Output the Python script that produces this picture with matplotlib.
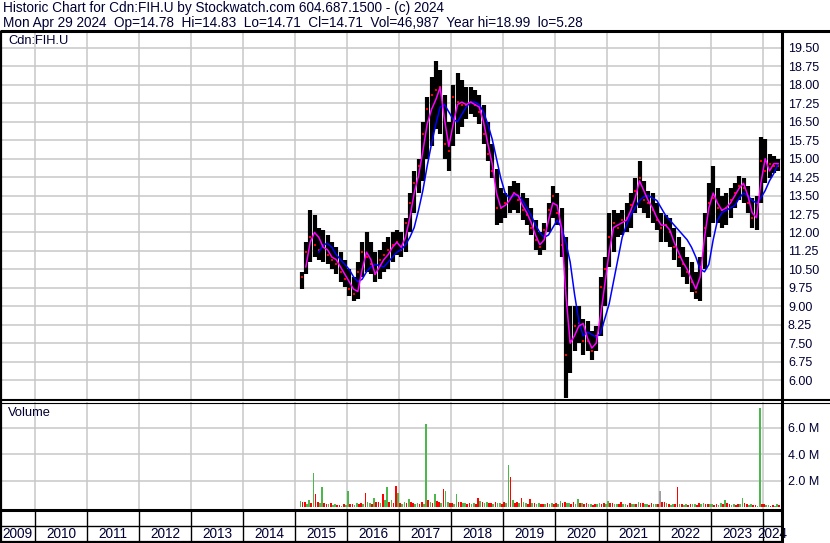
import numpy as np
import pandas as pd
import matplotlib
matplotlib.use('Agg')
import matplotlib.pyplot as plt

plt.rcParams['font.family'] = ['Liberation Sans', 'DejaVu Sans']

W, H = 830, 543
TXT = '#000033'
GRID = '#c8c8c8'

# monthly price bars, Feb 2015 .. Apr 2024
months = pd.period_range('2015-02', '2024-04', freq='M')
highs = [10.4, 11.6, 12.9, 12.7, 12.2, 12.1, 11.9, 11.6, 11.4, 11.2, 10.9,
         10.5, 10.2, 10.8, 11.6, 12.0, 11.6, 11.2, 11.3, 11.6, 11.8, 12.0, 12.1,
         12.0, 12.6, 13.6, 14.5, 15.0, 16.5, 17.5, 18.3, 18.99, 18.6, 17.6, 16.5,
         18.0, 18.5, 18.2, 17.9, 17.9, 17.8, 17.6, 17.2, 16.5, 15.6, 14.6, 13.8,
         13.6, 13.9, 14.1, 14.0, 13.6, 13.4, 13.0, 12.5, 12.0, 12.4, 13.2, 13.9,
         13.6, 13.0, 11.8, 9.0, 9.0, 9.0, 8.5, 8.4, 8.0, 8.2, 10.2, 11.0,
         12.8, 12.9, 12.8, 12.9, 13.2, 13.6, 14.2, 14.9, 14.1, 13.7, 13.6, 13.2,
         12.8, 12.7, 12.6, 12.2, 11.8, 11.4, 11.0, 10.8, 10.4, 11.0, 12.8, 14.0,
         14.7, 13.8, 13.5, 13.6, 13.8, 14.0, 14.3, 14.2, 13.9, 13.4, 13.5, 15.9,
         15.8, 15.2, 15.1, 15.0]
lows = [9.7, 10.3, 10.8, 11.0, 10.9, 10.8, 10.7, 10.5, 10.3, 10.0, 9.8,
        9.4, 9.2, 9.3, 10.2, 10.4, 10.3, 10.0, 10.1, 10.4, 10.5, 10.8, 11.1,
        11.0, 11.2, 12.0, 12.8, 13.6, 14.1, 15.0, 15.5, 16.2, 16.0, 15.0, 14.5,
        15.5, 16.0, 16.3, 16.6, 16.8, 16.7, 16.4, 15.6, 14.9, 14.2, 12.3, 12.4,
        12.6, 12.8, 12.9, 12.8, 12.5, 12.3, 11.9, 11.3, 11.1, 11.3, 12.0, 12.6,
        12.3, 11.0, 5.28, 6.3, 7.2, 7.5, 7.0, 7.2, 6.8, 7.2, 7.8, 9.0,
        10.6, 11.2, 11.8, 11.9, 12.0, 12.2, 12.8, 13.0, 12.8, 12.6, 12.4, 12.1,
        11.6, 11.6, 11.4, 10.9, 10.6, 10.2, 9.9, 9.6, 9.3, 9.2, 10.5, 11.8,
        12.4, 12.4, 12.2, 12.3, 12.6, 13.0, 13.3, 13.2, 12.8, 12.2, 12.1, 13.2,
        14.0, 14.2, 14.4, 14.5]
closes = [10.2, 11.2, 11.8, 11.5, 11.3, 11.5, 11.1, 10.9, 10.7, 10.4, 10.1,
          9.7, 9.5, 10.4, 11.2, 11.0, 10.7, 10.3, 10.9, 11.1, 11.3, 11.5, 11.6,
          11.3, 12.4, 13.2, 14.0, 14.7, 16.0, 17.0, 17.6, 17.8, 17.9, 15.6, 15.3,
          17.5, 17.3, 17.2, 17.2, 17.3, 17.2, 16.9, 16.0, 15.2, 14.5, 13.0, 13.0,
          13.2, 13.4, 13.6, 13.3, 12.9, 12.7, 12.2, 11.7, 11.4, 12.1, 12.9, 13.5,
          12.8, 11.5, 7.0, 7.6, 8.2, 8.3, 7.6, 7.6, 7.2, 7.8, 9.8, 10.5,
          11.8, 12.4, 12.2, 12.5, 12.6, 13.1, 13.7, 14.2, 13.3, 13.2, 12.9, 12.5,
          12.2, 12.3, 12.0, 11.4, 11.0, 10.7, 10.4, 10.0, 9.6, 10.6, 12.2, 13.2,
          13.4, 13.0, 12.9, 13.0, 13.3, 13.6, 13.9, 13.8, 13.2, 12.6, 13.2, 14.9,
          14.5, 14.8, 14.7, 14.71]
# short average (magenta) and long average (blue)
ma_short = [None, 10.6, 11.6, 12.0, 11.8, 11.4, 11.3, 11.0, 10.9, 10.6, 10.3,
            10.0, 9.7, 9.6, 10.5, 11.2, 10.9, 10.3, 10.6, 10.9, 11.1, 11.4, 11.6,
            11.4, 11.8, 12.6, 13.6, 14.3, 15.3, 16.4, 17.0, 17.4, 17.9, 16.6, 15.5,
            16.4, 17.2, 17.3, 17.2, 17.3, 17.2, 17.1, 16.5, 15.6, 14.8, 13.6, 13.0,
            13.1, 13.3, 13.6, 13.5, 13.1, 12.8, 12.4, 11.9, 11.5, 11.7, 12.5, 13.2,
            13.1, 12.2, 9.5, 7.5, 7.8, 8.2, 8.3, 7.7, 7.3, 7.5, 8.6, 9.9,
            11.2, 12.2, 12.3, 12.4, 12.5, 12.9, 13.4, 14.1, 13.7, 13.3, 13.0, 12.6,
            12.3, 12.3, 12.1, 11.6, 11.2, 10.8, 10.5, 10.1, 9.7, 10.2, 11.8, 13.0,
            13.6, 13.2, 12.9, 13.0, 13.2, 13.5, 13.8, 14.0, 13.5, 12.8, 12.6, 14.0,
            15.0, 14.5, 14.8, 14.8]
ma_long = [None, None, None, None, 11.2, 11.5, 11.55, 11.4, 11.1, 10.9, 10.7,
           10.5, 10.2, 10.0, 10.1, 10.4, 10.6, 10.7, 10.65, 10.6, 10.8, 11.0, 11.2,
           11.3, 11.5, 11.8, 12.2, 12.9, 13.7, 14.7, 15.6, 16.4, 17.1, 17.2, 16.9,
           16.6, 16.5, 16.8, 17.1, 17.3, 17.3, 17.2, 16.9, 16.4, 15.8, 15.0, 14.2,
           13.6, 13.4, 13.5, 13.5, 13.3, 13.0, 12.7, 12.3, 12.0, 11.8, 11.9, 12.2,
           12.5, 12.2, 11.6, 10.8, 9.5, 8.4, 7.8, 7.95, 7.85, 7.75, 7.9, 8.5,
           9.1, 10.0, 10.9, 11.8, 12.3, 12.7, 13.0, 13.3, 13.45, 13.5, 13.4, 13.3,
           13.0, 12.7, 12.5, 12.3, 12.1, 11.9, 11.7, 11.4, 11.0, 10.5, 10.4, 10.7,
           11.7, 12.5, 12.8, 12.9, 13.0, 13.1, 13.4, 13.6, 13.5, 13.3, 13.2, 13.4,
           13.7, 14.1, 14.4, 14.8]
# biggest and a typical daily volume in each month (millions)
vol_peak = [0.45, 0.4, 0.5, 2.6, 0.4, 1.5, 0.25, 0.3, 0.2, 0.15, 0.2,
            1.2, 0.2, 0.3, 0.3, 1.1, 0.3, 0.7, 0.4, 1.0, 1.5, 0.5, 1.6,
            0.3, 0.4, 0.6, 0.3, 0.3, 0.4, 6.3, 0.4, 1.0, 0.4, 1.4, 0.4,
            0.3, 1.0, 0.35, 0.3, 0.3, 0.3, 0.7, 0.4, 0.4, 0.3, 0.4, 0.3,
            0.4, 3.2, 0.5, 0.4, 0.7, 0.3, 0.6, 0.3, 0.3, 0.25, 0.3, 0.3,
            0.3, 0.45, 0.4, 0.3, 0.35, 0.6, 0.3, 0.3, 0.2, 0.25, 0.3, 0.3,
            0.45, 0.3, 0.25, 0.35, 0.2, 0.3, 0.25, 0.4, 0.3, 0.2, 0.3, 0.25,
            1.2, 0.4, 0.2, 0.25, 1.5, 0.2, 0.2, 0.25, 0.2, 0.3, 0.3, 0.25,
            0.2, 0.2, 0.3, 0.55, 0.2, 0.2, 0.25, 0.7, 0.2, 0.2, 0.15, 7.5,
            0.2, 0.15, 0.15, 0.2]
vol_peak_dir = ('grggrgrrgrr' 'grgrrggrrggr' 'rggrgrgggrrg' 'rgrgrgrrgrrg'
                'rggrrgrrgrrg' 'rgrgrggrgrgr' 'grgrgrggrgrg' 'krrgrrgrgrgr'
                'grggrgrgrgrg' 'rgrg')
vol_typ = [0.35, 0.25, 0.3, 1.0, 0.3, 0.3, 0.2, 0.15, 0.15, 0.1, 0.15,
           0.2, 0.15, 0.2, 0.25, 0.4, 0.2, 0.4, 0.3, 0.5, 0.4, 0.3, 1.1,
           0.2, 0.3, 0.35, 0.2, 0.2, 0.25, 0.5, 0.3, 0.45, 0.3, 1.2, 0.3,
           0.2, 0.4, 0.3, 0.2, 0.25, 0.2, 0.45, 0.3, 0.3, 0.2, 0.3, 0.2,
           0.3, 2.3, 0.3, 0.3, 0.4, 0.2, 0.3, 0.2, 0.2, 0.2, 0.2, 0.2,
           0.2, 0.3, 0.3, 0.2, 0.25, 0.3, 0.2, 0.2, 0.15, 0.2, 0.2, 0.2,
           0.3, 0.2, 0.2, 0.25, 0.15, 0.2, 0.2, 0.3, 0.2, 0.15, 0.2, 0.2,
           0.4, 0.3, 0.15, 0.2, 0.2, 0.15, 0.15, 0.2, 0.15, 0.2, 0.2, 0.2,
           0.15, 0.15, 0.2, 0.3, 0.15, 0.15, 0.2, 0.3, 0.15, 0.15, 0.1, 0.2,
           0.15, 0.1, 0.1, 0.15]

price_ticks = np.arange(6.0, 19.51, 0.75)
vol_ticks = [2, 4, 6]
years = list(range(2009, 2025))

header1 = 'Historic Chart for Cdn:FIH.U by Stockwatch.com 604.687.1500 - (c) 2024'
header2 = ('Mon Apr 29 2024  Op=14.78  Hi=14.83  Lo=14.71  Cl=14.71  '
           'Vol=46,987  Year hi=18.99  lo=5.28')

x_dates = np.array([p.year + (p.month - 0.5) / 12 for p in months])
hi = np.array(highs)
lo = np.array(lows)
cl = np.array(closes)
ma1 = np.array([np.nan if v is None else v for v in ma_short])
ma2 = np.array([np.nan if v is None else v for v in ma_long])

XMIN = 2010 - 35 / 52
XMAX = 2010 + 746 / 52
FS = 9.3


def box(l, t, r, b):
    return [l / W, 1 - b / H, (r - l) / W, (b - t) / H]


fig = plt.figure(figsize=(W / 100, H / 100), dpi=100)
fig.patch.set_facecolor('white')

# price panel
ax = fig.add_axes(box(0, 31, 781, 400))
ax.set_xlim(XMIN, XMAX)
ax.set_ylim(5.19, 20.19)
for y in price_ticks:
    ax.axhline(y, color=GRID, lw=1.1, zorder=0)
for yr in years[1:]:
    ax.axvline(yr, color=GRID, lw=1.1, zorder=0)
ax.vlines(x_dates, lo, hi, color='black', lw=3.0, zorder=2)
ax.plot(x_dates, cl, 's', color='red', ms=1.7, mew=0, zorder=3)
ax.plot(x_dates, ma2, color='#0000ff', lw=1.1, zorder=4)
ax.plot(x_dates, ma1, color='#ff00ff', lw=1.1, zorder=5)
ax.set_xticks([])
ax.yaxis.tick_right()
ax.set_yticks(price_ticks)
ax.set_yticklabels(['%.2f' % v for v in price_ticks])
ax.tick_params(axis='y', length=0, pad=5, labelsize=9, labelcolor=TXT)
for s in ax.spines.values():
    s.set_visible(False)

# volume panel
axv = fig.add_axes(box(0, 402, 781, 509))
axv.set_xlim(XMIN, XMAX)
axv.set_ylim(-0.15, 7.97)
for y in vol_ticks:
    axv.axhline(y, color=GRID, lw=1.1, zorder=0)
for yr in years[1:]:
    axv.axvline(yr, color=GRID, lw=1.1, zorder=0)
cmap = {'g': '#4cb84c', 'r': '#ff0000', 'k': '#a0a0a0'}
flip = {'g': 'r', 'r': 'g', 'k': 'r'}
axv.bar(x_dates - 1 / 48, vol_peak, width=1.6 / 52,
        color=[cmap[c] for c in vol_peak_dir], zorder=2)
axv.bar(x_dates + 1 / 48, vol_typ, width=1.6 / 52,
        color=[cmap[flip[c]] for c in vol_peak_dir], zorder=2)
axv.set_xticks([])
axv.yaxis.tick_right()
axv.set_yticks(vol_ticks)
axv.set_yticklabels(['%.1f M' % v for v in vol_ticks])
axv.tick_params(axis='y', length=0, pad=5, labelsize=9, labelcolor=TXT)
for s in axv.spines.values():
    s.set_visible(False)

# year strip
axy = fig.add_axes(box(0, 509, 781, 542))
axy.set_xlim(XMIN, XMAX)
axy.set_ylim(0, 2)
axy.axis('off')
for yr in years[1:]:
    axy.axvline(yr, color='black', lw=1.0)
axy.axhline(1, color='black', lw=1.0)
for yr in years:
    c = (max(yr, XMIN) + min(yr + 1, XMAX)) / 2
    axy.text(c, 0.5, str(yr), ha='center', va='center', fontsize=9.8,
             color=TXT, clip_on=False)

# frame lines and header, in pixel space
fr = fig.add_axes([0, 0, 1, 1], zorder=10)
fr.set_xlim(0, W)
fr.set_ylim(H, 0)
fr.axis('off')
fr.patch.set_alpha(0)
k = dict(color='black', solid_capstyle='butt')
fr.plot([0, W], [31, 31], lw=2.2, **k)
fr.plot([781.5, 781.5], [31, H], lw=2.2, **k)
fr.plot([0.8, 0.8], [31, H], lw=1.6, **k)
fr.plot([0, W], [400, 400], lw=1.5, **k)
fr.plot([0, W], [402.5, 402.5], lw=0.8, **k)
fr.plot([0, 781], [510, 510], lw=2.2, **k)
fr.plot([0, 781], [542, 542], lw=1.6, **k)
fr.text(3, 8, header1, fontsize=9.8, color=TXT, va='center')
fr.text(3, 23, header2, fontsize=9.8, color=TXT, va='center')
fr.text(8, 41, 'Cdn:FIH.U', fontsize=FS, color=TXT, va='center')
fr.text(8, 413, 'Volume', fontsize=FS, color=TXT, va='center')

fig.savefig('out.png', dpi=100)
